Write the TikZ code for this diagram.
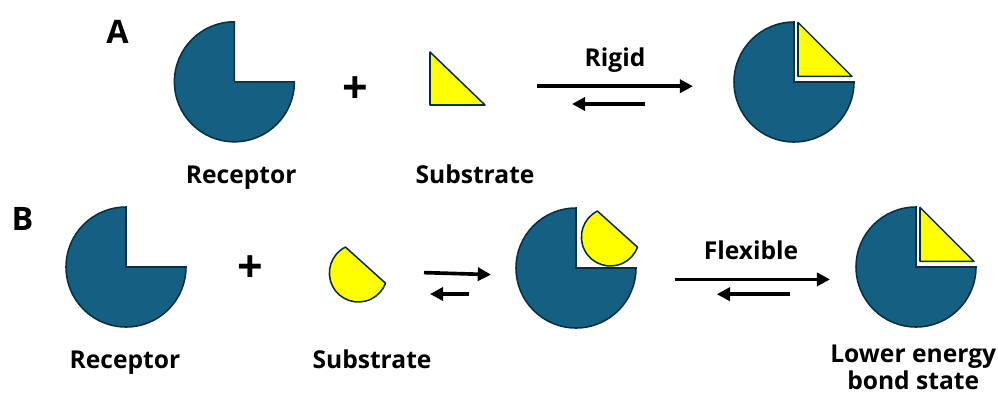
\documentclass[tikz,border=0pt]{standalone}
\usepackage{fontspec}
\setmainfont{Open Sans}
\usepackage{tikz}
\usetikzlibrary{arrows.meta, positioning, calc}
\definecolor{cTeal}{RGB}{21,96,130}
\definecolor{cEdge}{RGB}{10,47,65}
\definecolor{cYellow}{RGB}{255,255,0}
\tikzset{
	pie/.style      ={draw=cEdge, line width=1.1pt, fill=cTeal},
	lig/.style      ={draw=cEdge, line width=1.1pt, fill=cYellow, line join=round},
	lbl/.style      ={font=\fontsize{17.5}{19.5}\selectfont\bfseries, inner sep=0pt, anchor=base},
	panel/.style    ={font=\fontsize{23}{26}\selectfont\bfseries, inner sep=0pt, anchor=base},
	plus/.style     ={font=\fontsize{32}{32}\selectfont\bfseries, inner sep=0pt},
	eqarrow/.style  ={-{Triangle[length=3.3mm, width=3.3mm]}, line width=2.6pt},
}
% receptor: circle of radius 1.5 with the top right quarter cut away
\newcommand{\receptor}[2]{%
	\filldraw[pie] (#1,#2) -- ++(0,1.5) arc[start angle=90, end angle=360, radius=1.5] -- cycle;}
% rigid substrate sitting in the cut-away quarter
\newcommand{\dockedtri}[2]{%
	\filldraw[lig] ({#1+0.1},{#2+0.14}) -- ++(0,1.35) -- ++(1.35,-1.35) -- cycle;}
% flexible substrate: round piece with a straight cut
\newcommand{\halfsub}[2]{%
	\filldraw[lig] (#1,#2) ++(116.6:0.725) arc[start angle=116.6, end angle=339.4, radius=0.725] -- cycle;}

\begin{document}
\begin{tikzpicture}
			\useasboundingbox (0,0) rectangle (24.95,9.975);
			% ---------------- A: rigid ----------------
			\node[panel] (labA) at (2.94,8.9) {A};
			\receptor{5.86}{7.93}
			\node[plus] (plusA) at (8.875,7.72) {+};
			\filldraw[lig] (10.75,7.35) -- (10.75,8.675) -- (12.125,7.35) -- cycle;
			\node[lbl] (recA) at (6.03,5.4) {Receptor};
			\node[lbl] (subA) at (11.875,5.4) {Substrate};
			\coordinate (fwdA0) at (13.425,7.82);
			\coordinate (fwdA1) at (17.325,7.82);
			\coordinate (bwdA0) at (16.125,7.375);
			\coordinate (bwdA1) at (14.3,7.375);
			\draw[eqarrow] (fwdA0) -- (fwdA1);
			\draw[eqarrow] (bwdA0) -- (bwdA1);
			\node[lbl] (rigid) at ($(fwdA0)!0.5!(fwdA1)+(0,0.5)$) {Rigid};
			\receptor{19.85}{7.925}
			\dockedtri{19.85}{7.925}
			% ---------------- B: flexible ----------------
			\node[panel] (labB) at (0.5625,4.225) {B};
			\receptor{3.15}{3.3}
			\node[plus] (plusB) at (6.25,3.25) {+};
			\halfsub{8.96}{3.15}
			\node[lbl] (recB) at (3.125,0.775) {Receptor};
			\node[lbl] (subB) at (9.3,0.775) {Substrate};
			\coordinate (fwdB0) at (10.6,3.16);
			\coordinate (fwdB1) at (12.275,3.11);
			\coordinate (bwdB0) at (11.725,2.625);
			\coordinate (bwdB1) at (10.75,2.625);
			\draw[eqarrow] (fwdB0) -- (fwdB1);
			\draw[eqarrow] (bwdB0) -- (bwdB1);
			\receptor{14.4}{3.275}
			\halfsub{15.26}{4.05}
			\coordinate (fwdC0) at (16.875,2.99);
			\coordinate (fwdC1) at (20.75,2.99);
			\coordinate (bwdC0) at (19.75,2.62);
			\coordinate (bwdC1) at (17.92,2.62);
			\draw[eqarrow] (fwdC0) -- (fwdC1);
			\draw[eqarrow] (bwdC0) -- (bwdC1);
			\node[lbl] (flex) at (18.775,3.5) {Flexible};
			\receptor{22.9}{3.3}
			\dockedtri{22.9}{3.3}
			\node[lbl, align=center, anchor=north] (lowE) at (22.83,1.36) {Lower energy\\bond state};
		\end{tikzpicture}
\end{document}
